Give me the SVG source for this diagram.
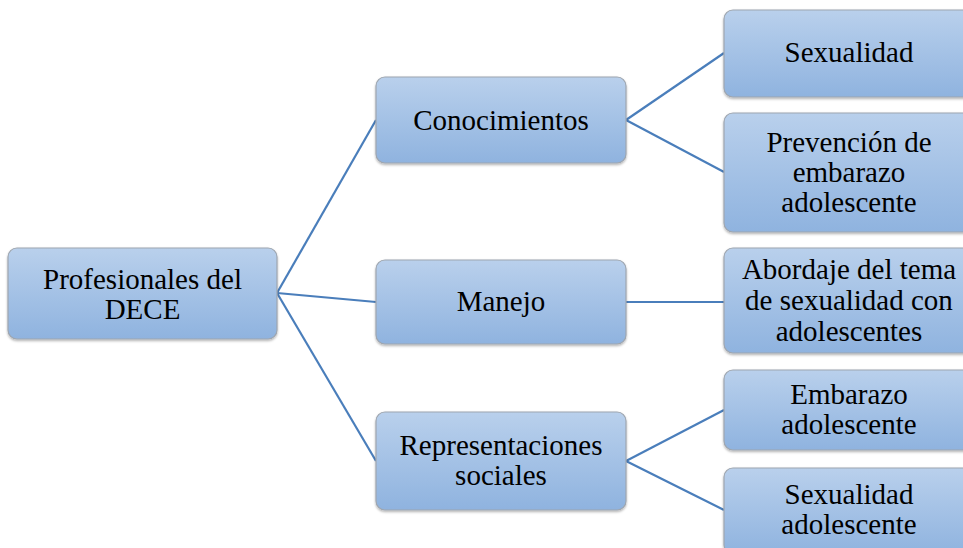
<svg xmlns="http://www.w3.org/2000/svg" width="963" height="548" viewBox="0 0 963 548">
<defs>
<linearGradient id="g" x1="0" y1="0" x2="0" y2="1">
<stop offset="0" stop-color="#b9d0ec"/>
<stop offset="1" stop-color="#8fb3df"/>
</linearGradient>
<filter id="sh" x="-10%" y="-10%" width="120%" height="130%">
<feDropShadow dx="0" dy="1.5" stdDeviation="1.2" flood-color="#000" flood-opacity="0.3"/>
</filter>
</defs>
<style>
.box{fill:url(#g);stroke:#9ea6b0;stroke-width:1.2;filter:url(#sh)}
.t{font-family:"Liberation Serif","Times New Roman",serif;font-size:29px;fill:#000;text-anchor:middle}
.c{stroke:#4a7ebb;stroke-width:2.2;fill:none}
</style>
<rect width="963" height="548" fill="#fff"/>
<g id="connectors">
<line class="c" x1="277" y1="293" x2="376" y2="120"/>
<line class="c" x1="277" y1="293" x2="376" y2="302"/>
<line class="c" x1="277" y1="293" x2="376" y2="461"/>
<line class="c" x1="626" y1="120" x2="724" y2="53"/>
<line class="c" x1="626" y1="120" x2="724" y2="172"/>
<line class="c" x1="626" y1="302" x2="724" y2="302"/>
<line class="c" x1="626" y1="461" x2="724" y2="410"/>
<line class="c" x1="626" y1="461" x2="724" y2="510"/>
</g>
<g id="root">
<rect class="box" x="8" y="248" width="269" height="91" rx="9"/>
<text class="t" x="142.5" y="289">Profesionales del</text>
<text class="t" x="142.5" y="319">DECE</text>
</g>
<g id="conocimientos">
<rect class="box" x="376" y="77" width="250" height="86" rx="9"/>
<text class="t" x="501" y="130">Conocimientos</text>
</g>
<g id="manejo">
<rect class="box" x="376" y="260" width="250" height="84" rx="9"/>
<text class="t" x="501" y="311">Manejo</text>
</g>
<g id="representaciones">
<rect class="box" x="376" y="412" width="250" height="98" rx="9"/>
<text class="t" x="501" y="455">Representaciones</text>
<text class="t" x="501" y="485">sociales</text>
</g>
<g id="sexualidad">
<rect class="box" x="724" y="10" width="252" height="87" rx="9"/>
<text class="t" x="849" y="62">Sexualidad</text>
</g>
<g id="prevencion">
<rect class="box" x="724" y="113" width="252" height="119" rx="9"/>
<text class="t" x="849" y="152">Prevención de</text>
<text class="t" x="849" y="182">embarazo</text>
<text class="t" x="849" y="212">adolescente</text>
</g>
<g id="abordaje">
<rect class="box" x="724" y="248" width="252" height="105" rx="9"/>
<text class="t" x="849" y="279">Abordaje del tema</text>
<text class="t" x="849" y="310">de sexualidad con</text>
<text class="t" x="849" y="341">adolescentes</text>
</g>
<g id="embarazo">
<rect class="box" x="724" y="370" width="252" height="80" rx="9"/>
<text class="t" x="849" y="404">Embarazo</text>
<text class="t" x="849" y="434">adolescente</text>
</g>
<g id="sexualidad-adolescente">
<rect class="box" x="724" y="468" width="252" height="86" rx="9"/>
<text class="t" x="849" y="504">Sexualidad</text>
<text class="t" x="849" y="534">adolescente</text>
</g>
</svg>
